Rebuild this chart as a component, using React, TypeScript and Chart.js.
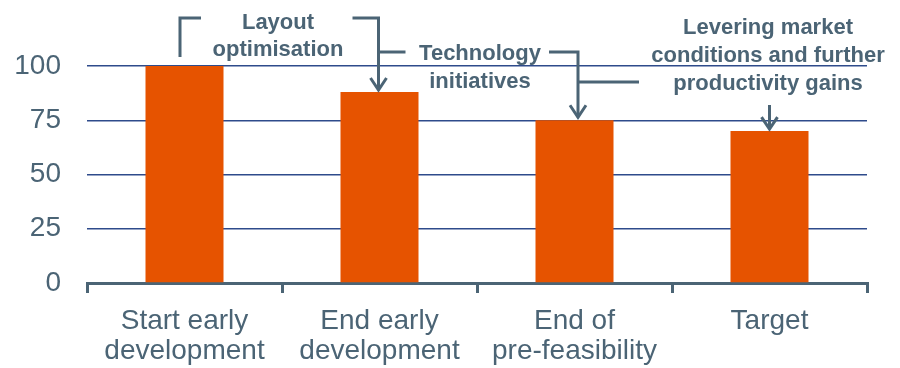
import React, { useEffect, useRef } from "react";
import { Chart, registerables } from "chart.js";

Chart.register(...registerables);

const categories: string[][] = [
  ["Start early", "development"],
  ["End early", "development"],
  ["End of", "pre-feasibility"],
  ["Target"],
];
const values: number[] = [100, 88, 75, 70];
const yTicks: number[] = [0, 25, 50, 75, 100];

const annLayout: string[] = ["Layout", "optimisation"];
const annTech: string[] = ["Technology", "initiatives"];
const annLever: string[] = ["Levering market", "conditions and further", "productivity gains"];

const ORANGE = "#E65300";
const SLATE = "#4B6475";
const NAVY = "#2E4B8B";
const FONT = "'Liberation Sans', Arial, sans-serif";

const annotationPlugin = {
  id: "annotations",
  afterDraw(chart: any) {
    const ctx = chart.ctx;
    const xs = chart.scales.x;
    const ys = chart.scales.y;
    const cx = (i: number) => xs.getPixelForValue(i);
    const top = (i: number) => ys.getPixelForValue(values[i]);
    ctx.save();
    ctx.strokeStyle = SLATE;
    ctx.fillStyle = SLATE;
    ctx.lineWidth = 3;
    ctx.lineCap = "butt";
    ctx.lineJoin = "miter";

    const line = (pts: number[][]) => {
      ctx.beginPath();
      ctx.moveTo(pts[0][0], pts[0][1]);
      for (let k = 1; k < pts.length; k++) ctx.lineTo(pts[k][0], pts[k][1]);
      ctx.stroke();
    };
    const arrowHead = (x: number, tipY: number) => {
      ctx.beginPath();
      ctx.moveTo(x - 8, tipY - 13);
      ctx.lineTo(x, tipY - 1);
      ctx.lineTo(x + 8, tipY - 13);
      ctx.stroke();
    };

    // Layout optimisation bracket
    const x0 = cx(0) - 4.5;
    const x1 = cx(1) - 1;
    line([[x0, 57], [x0, 18], [x0 + 21, 18]]);
    line([[x1 - 26, 18], [x1, 18], [x1, top(1) - 2]]);
    arrowHead(x1, top(1) - 1);

    // Technology initiatives bracket
    line([[x1, 52], [x1 + 27, 52]]);
    const x2 = cx(2) + 3.5;
    line([[x2 - 29, 52], [x2, 52], [x2, top(2) - 3]]);
    arrowHead(x2, top(2) - 2);

    // Levering market bracket
    line([[x2, 82], [x2 + 61, 82]]);
    const x3 = cx(3);
    line([[x3, 105], [x3, top(3) - 2]]);
    arrowHead(x3, top(3) - 1);

    ctx.font = `bold 22px ${FONT}`;
    ctx.textAlign = "center";
    ctx.textBaseline = "alphabetic";
    annLayout.forEach((t, k) => ctx.fillText(t, 278, 29 + k * 27));
    annTech.forEach((t, k) => ctx.fillText(t, 480, 60 + k * 28));
    annLever.forEach((t, k) => ctx.fillText(t, 768, 34 + k * 28));
    ctx.restore();
  },
};

export default function App() {
  const ref = useRef<HTMLCanvasElement | null>(null);
  useEffect(() => {
    if (!ref.current) return;
    const chart = new Chart(ref.current, {
      type: "bar",
      data: {
        labels: categories,
        datasets: [
          {
            data: values,
            backgroundColor: ORANGE,
            borderWidth: 0,
            barPercentage: 0.4,
            categoryPercentage: 1,
          },
        ],
      },
      options: {
        animation: false,
        responsive: true,
        maintainAspectRatio: false,
        layout: { padding: { top: 66, right: 33, left: 0, bottom: 0 } },
        plugins: {
          legend: { display: false },
          tooltip: { enabled: false },
          title: { display: false },
        },
        scales: {
          x: {
            offset: true,
            grid: {
              offset: true,
              drawOnChartArea: false,
              drawTicks: true,
              tickLength: 10,
              lineWidth: 3,
              color: SLATE,
            },
            border: { display: true, color: SLATE, width: 3 },
            ticks: {
              color: SLATE,
              padding: 13,
              maxRotation: 0,
              autoSkip: false,
              font: { family: FONT, size: 28, lineHeight: 30 / 28 },
            },
            afterFit: (s: any) => {
              s.height = 85;
            },
          },
          y: {
            min: 0,
            max: 100,
            afterBuildTicks: (s: any) => {
              s.ticks = yTicks.map((v) => ({ value: v }));
            },
            grid: {
              drawTicks: false,
              lineWidth: 1.5,
              color: (c: any) => (c.tick && c.tick.value === 0 ? "rgba(0,0,0,0)" : NAVY),
            },
            border: { display: false },
            ticks: {
              color: SLATE,
              padding: 26,
              font: { family: FONT, size: 28 },
            },
            afterFit: (s: any) => {
              s.width = 87;
            },
          },
        },
      },
      plugins: [annotationPlugin],
    });
    return () => chart.destroy();
  }, []);
  return (
    <div style={{ position: "fixed", left: 0, top: 0, width: 900, height: 368, background: "#fff" }}>
      <canvas ref={ref} />
    </div>
  );
}
